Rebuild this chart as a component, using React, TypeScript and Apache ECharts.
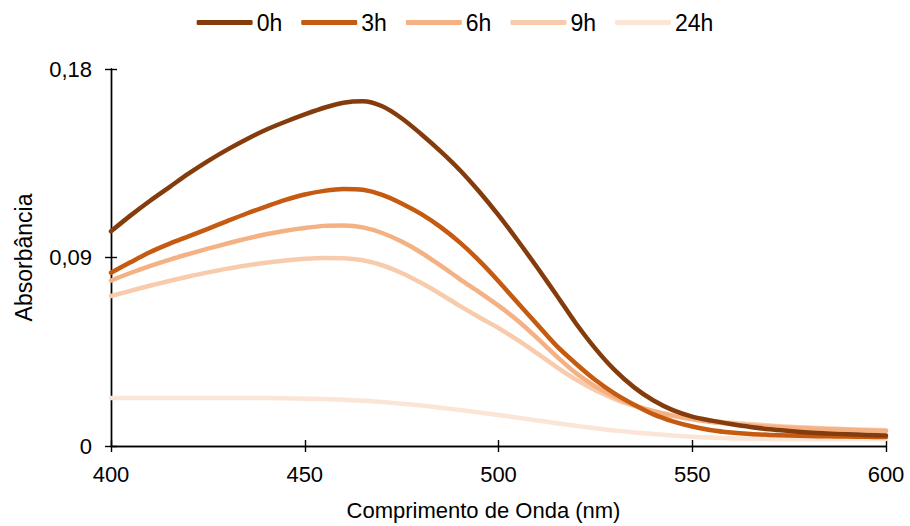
import React, { useEffect, useRef } from "react";
import * as echarts from "echarts";

const wavelengths = [400, 405, 410, 415, 420, 425, 430, 435, 440, 445, 450, 455, 460, 465, 470, 475, 480, 485, 490, 495, 500, 505, 510, 515, 520, 525, 530, 535, 540, 545, 550, 555, 560, 565, 570, 575, 580, 585, 590, 595, 600];
const seriesNames = ["0h", "3h", "6h", "9h", "24h"];
const colors = ["#843C0C", "#C55A11", "#F4B183", "#F8CBAD", "#FBE5D6"];

const abs0h = [0.1025, 0.110, 0.117, 0.1235, 0.130, 0.136, 0.1415, 0.1465, 0.151, 0.1548, 0.1583, 0.1615, 0.1639, 0.1646, 0.1622, 0.1565, 0.149, 0.1408, 0.1318, 0.1215, 0.1102, 0.098, 0.0852, 0.072, 0.0585, 0.0465, 0.0362, 0.028, 0.0217, 0.0171, 0.014, 0.0121, 0.0105, 0.0091, 0.008, 0.0072, 0.0065, 0.006, 0.0056, 0.0053, 0.005];
const abs3h = [0.0827, 0.0877, 0.0925, 0.0965, 0.1001, 0.1037, 0.1074, 0.111, 0.1143, 0.1175, 0.1201, 0.1218, 0.1227, 0.1223, 0.1199, 0.1158, 0.1108, 0.1046, 0.0972, 0.0885, 0.0787, 0.0683, 0.058, 0.0478, 0.0393, 0.0315, 0.025, 0.0197, 0.0151, 0.0118, 0.0093, 0.0075, 0.0064, 0.0057, 0.0053, 0.005, 0.0048, 0.0046, 0.0045, 0.0044, 0.0043];
const abs6h = [0.079, 0.0826, 0.0859, 0.0889, 0.0916, 0.0942, 0.0967, 0.099, 0.1011, 0.1028, 0.1041, 0.1051, 0.1053, 0.1044, 0.1017, 0.0976, 0.0924, 0.0862, 0.0797, 0.0735, 0.067, 0.0598, 0.0515, 0.0428, 0.0348, 0.0285, 0.0234, 0.0195, 0.0166, 0.0144, 0.0127, 0.0114, 0.0105, 0.0098, 0.0092, 0.0087, 0.0083, 0.008, 0.0077, 0.0074, 0.0072];
const abs9h = [0.0716, 0.0741, 0.0765, 0.0788, 0.0809, 0.0829, 0.0847, 0.0862, 0.0875, 0.0886, 0.0894, 0.0898, 0.0897, 0.0887, 0.0863, 0.0826, 0.0779, 0.0726, 0.0669, 0.0615, 0.0563, 0.0505, 0.0442, 0.0377, 0.0317, 0.0266, 0.0224, 0.0192, 0.0166, 0.0147, 0.0131, 0.012, 0.0111, 0.0104, 0.0098, 0.0092, 0.0088, 0.0084, 0.008, 0.0077, 0.0075];
const abs24h = [0.0229, 0.0229, 0.0229, 0.0229, 0.0229, 0.0229, 0.0229, 0.0229, 0.0229, 0.0228, 0.0226, 0.0224, 0.0221, 0.0216, 0.021, 0.0202, 0.0193, 0.0183, 0.0172, 0.016, 0.0148, 0.0135, 0.0122, 0.0109, 0.0096, 0.0085, 0.0074, 0.0065, 0.0057, 0.005, 0.0044, 0.004, 0.0037, 0.0035, 0.0034, 0.0034, 0.0033, 0.0033, 0.0033, 0.0033, 0.0033];

const allSeries = [abs0h, abs3h, abs6h, abs9h, abs24h];

const FONT = "'Liberation Sans', Arial, sans-serif";

export default function App() {
  const ref = useRef<HTMLDivElement>(null);
  useEffect(() => {
    if (!ref.current) return;
    const chart = echarts.init(ref.current, undefined, { renderer: "svg" });
    const fmtY = (v: number) => (v === 0 ? "0" : v.toFixed(2).replace(".", ","));
    const axisLine = { show: true, lineStyle: { color: "#000", width: 1.4 } };
    const tickStyle = { color: "#000", width: 1.4 };
    chart.setOption({
      animation: false,
      backgroundColor: "#fff",
      textStyle: { fontFamily: FONT },
      legend: {
        top: 6,
        left: "center",
        icon: "roundRect",
        itemWidth: 56,
        itemHeight: 5,
        itemGap: 19,
        textStyle: { fontSize: 23, color: "#000", fontFamily: FONT, padding: [0, 0, 0, -1] },
        data: seriesNames,
      },
      grid: { left: 111, right: 24, top: 69, bottom: 79, containLabel: false },
      xAxis: [
        {
          type: "value",
          position: "bottom",
          min: 400,
          max: 600,
          interval: 50,
          name: "Comprimento de Onda (nm)",
          nameLocation: "middle",
          nameGap: 53,
          nameTextStyle: { fontSize: 22, color: "#000", fontFamily: FONT, padding: [0, 30, 0, 0] },
          axisLine,
          axisTick: { show: true, inside: false, length: 6, lineStyle: tickStyle },
          axisLabel: { fontSize: 22, color: "#000", margin: 17, fontFamily: FONT },
          splitLine: { show: false },
        },
        {
          type: "value",
          position: "bottom",
          min: 400,
          max: 600,
          interval: 50,
          axisLine,
          axisTick: { show: true, inside: true, length: 6, lineStyle: tickStyle },
          axisLabel: { show: false },
          splitLine: { show: false },
        },
      ],
      yAxis: [
        {
          type: "value",
          position: "left",
          min: 0,
          max: 0.18,
          interval: 0.09,
          name: "Absorbância",
          nameLocation: "middle",
          nameGap: 76,
          nameTextStyle: { fontSize: 23, color: "#000", fontFamily: FONT },
          axisLine,
          axisTick: { show: true, inside: false, length: 6, lineStyle: tickStyle },
          axisLabel: { fontSize: 22, color: "#000", margin: 19, fontFamily: FONT, formatter: fmtY },
          splitLine: { show: false },
        },
        {
          type: "value",
          position: "left",
          min: 0,
          max: 0.18,
          interval: 0.09,
          axisLine,
          axisTick: { show: true, inside: true, length: 6, lineStyle: tickStyle },
          axisLabel: { show: false },
          splitLine: { show: false },
        },
      ],
      series: seriesNames.map((name, i) => ({
        name,
        type: "line",
        xAxisIndex: 0,
        yAxisIndex: 0,
        smooth: 0.3,
        symbol: "none",
        showSymbol: false,
        color: colors[i],
        lineStyle: { color: colors[i], width: 4.5, cap: "round", join: "round" },
        itemStyle: { color: colors[i] },
        data: wavelengths.map((w, j) => [w, allSeries[i][j]]),
        z: 10 - i,
      })),
    });
    return () => chart.dispose();
  }, []);
  return <div ref={ref} style={{ position: "fixed", left: 0, top: 0, width: 910, height: 526 }} />;
}
